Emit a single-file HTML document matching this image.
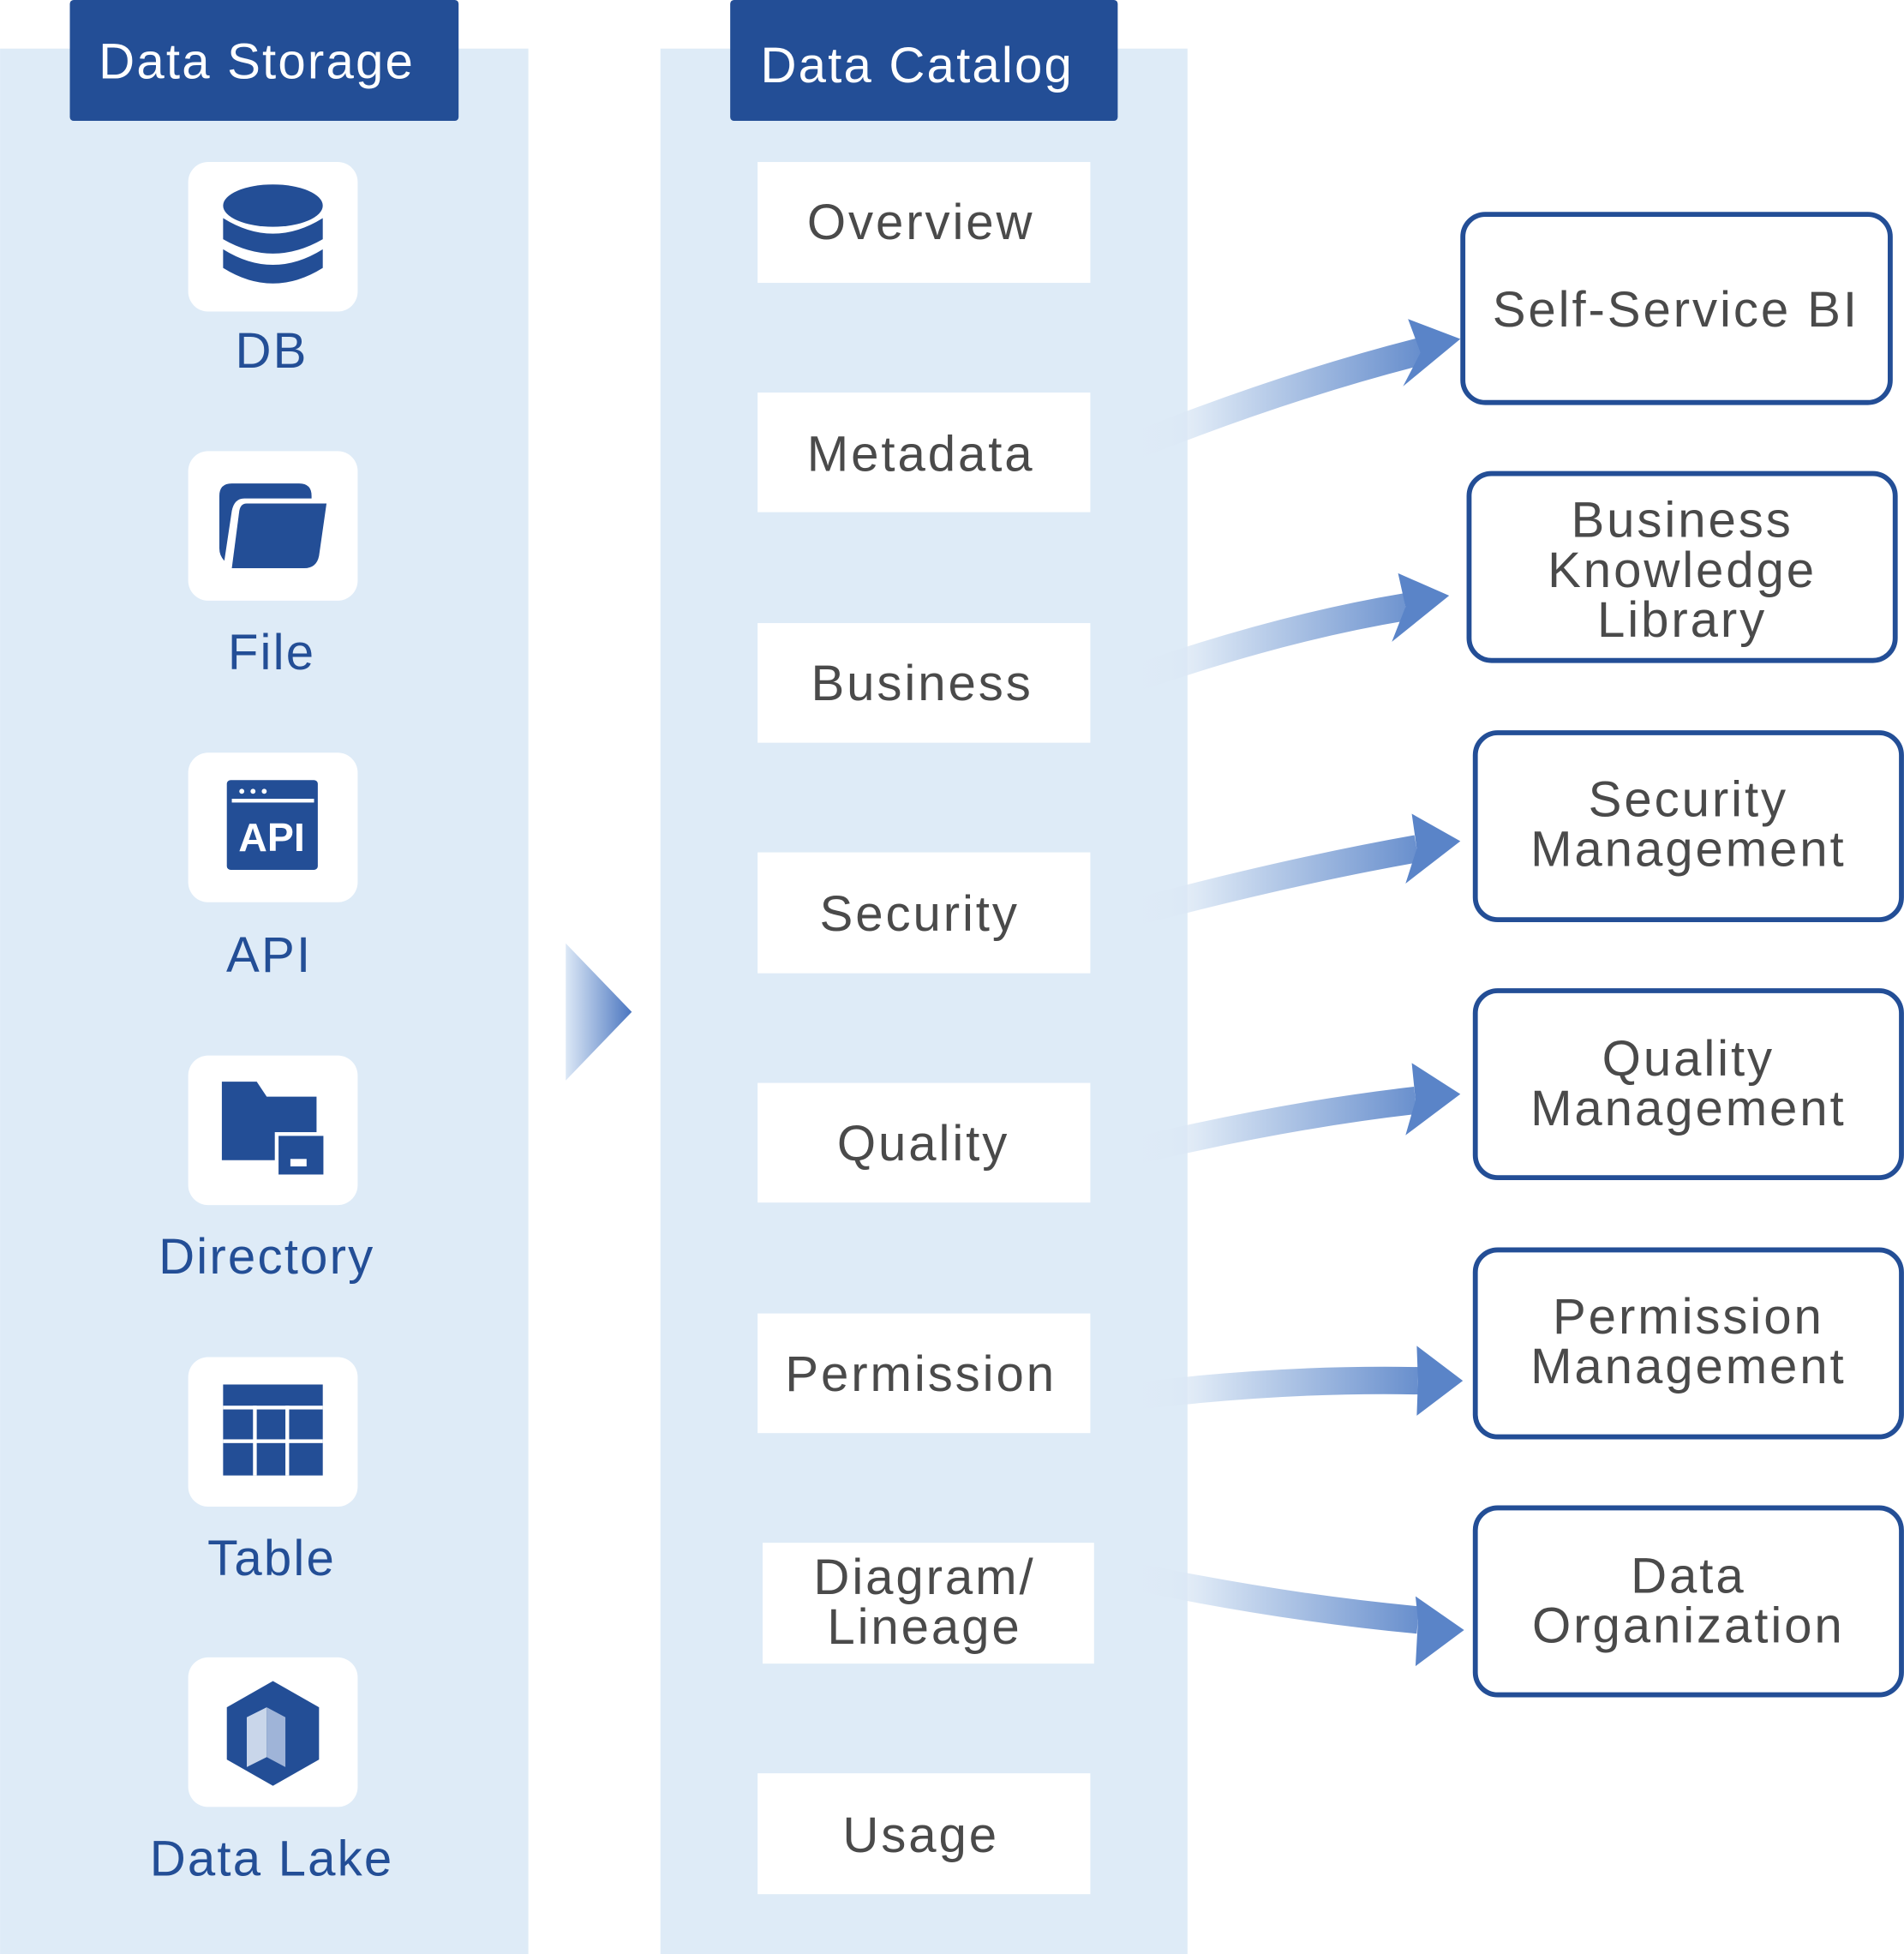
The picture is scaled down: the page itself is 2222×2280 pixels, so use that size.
<!DOCTYPE html>
<html><head><meta charset="utf-8"><style>
html,body{margin:0;padding:0;background:#fff;}
svg{display:block}
text{font-family:"Liberation Sans",sans-serif;}
</style></head><body>
<svg width="2222" height="2280" viewBox="0 0 1528 1568" xmlns="http://www.w3.org/2000/svg">
<defs>
<linearGradient id="ag" gradientUnits="userSpaceOnUse" x1="900" y1="0" x2="1160" y2="0">
<stop offset="0" stop-color="#deebf7" stop-opacity="0"/>
<stop offset="0.25" stop-color="#dbe7f5"/>
<stop offset="1" stop-color="#5a84c8"/>
</linearGradient>
<linearGradient id="tg" x1="0" y1="0" x2="1" y2="0">
<stop offset="0" stop-color="#dce8f6"/>
<stop offset="1" stop-color="#4b76c0"/>
</linearGradient>
</defs>
<rect x="0" y="39" width="424" height="1529" fill="#deebf7"/>
<rect x="530" y="39" width="423" height="1529" fill="#deebf7"/>
<rect x="56" y="0" width="312" height="97" rx="3" fill="#234e96"/>
<rect x="586" y="0" width="311" height="97" rx="3" fill="#234e96"/>
<text x="206" y="63" font-size="40" fill="#fff" text-anchor="middle" letter-spacing="1.5">Data Storage</text>
<text x="736" y="66" font-size="40" fill="#fff" text-anchor="middle" letter-spacing="1.5">Data Catalog</text>

<g fill="#fff">
<rect x="151" y="130" width="136" height="120" rx="16"/>
<rect x="151" y="362" width="136" height="120" rx="16"/>
<rect x="151" y="604" width="136" height="120" rx="16"/>
<rect x="151" y="847" width="136" height="120" rx="16"/>
<rect x="151" y="1089" width="136" height="120" rx="16"/>
<rect x="151" y="1330" width="136" height="120" rx="16"/>
</g>
<g fill="#234e96">
<ellipse cx="219" cy="165" rx="40" ry="17"/>
<path d="M179 175 Q219 200 259 175 V192 Q219 215 179 192Z"/>
<path d="M179 200 Q219 225 259 200 V215 Q219 240 179 215Z"/>
<path d="M186 388 H240 Q250 388 250 398 V400 H196 Q188 400 186 410 L180 450 Q176 446 176 440 V398 Q176 388 186 388Z"/>
<path d="M198 404 H262 L256 446 Q254 456 244 456 H186 L192 410 Q193 404 198 404Z"/>
<rect x="182" y="626" width="73" height="72" rx="3"/>
<path d="M178 868 H206 L214 880 H254 V931 H178Z"/>
<rect x="222" y="910" width="39" height="34" fill="#234e96" stroke="#fff" stroke-width="3"/>
<rect x="233" y="930" width="13" height="6" fill="#fff"/>
<rect x="179" y="1111" width="80" height="73"/>
<path d="M219 1349 L256 1370 V1412 L219 1433 L182 1412 V1370Z"/>
</g>
<g fill="#fff">
<rect x="186" y="641" width="66" height="3"/>
<circle cx="194" cy="635" r="2"/><circle cx="203" cy="635" r="2"/><circle cx="212" cy="635" r="2"/>
<rect x="179" y="1128" width="80" height="3"/><rect x="179" y="1155" width="80" height="3"/>
<rect x="203" y="1128" width="3" height="56"/><rect x="229" y="1128" width="3" height="56"/>
</g>
<text x="218" y="683" font-size="32" fill="#fff" text-anchor="middle" font-weight="bold">API</text>
<path d="M198 1378 L214 1370 V1410 L198 1418Z" fill="#c9d6ea"/>
<path d="M214 1370 L229 1378 V1418 L214 1410Z" fill="#9fb4d8"/>

<g font-size="40" fill="#234e96" text-anchor="middle" letter-spacing="1.5">
<text x="218" y="295">DB</text>
<text x="218" y="537">File</text>
<text x="216" y="780">API</text>
<text x="214" y="1022">Directory</text>
<text x="218" y="1264">Table</text>
<text x="218" y="1505">Data Lake</text>
</g>

<polygon points="454,757 507,812 454,867" fill="url(#tg)"/>

<g fill="#fff">
<rect x="608" y="130" width="267" height="97"/>
<rect x="608" y="315" width="267" height="96"/>
<rect x="608" y="500" width="267" height="96"/>
<rect x="608" y="684" width="267" height="97"/>
<rect x="608" y="869" width="267" height="96"/>
<rect x="608" y="1054" width="267" height="96"/>
<rect x="612" y="1238" width="266" height="97"/>
<rect x="608" y="1423" width="267" height="97"/>
</g>
<g font-size="40" fill="#4a4a4a" text-anchor="middle" letter-spacing="2">
<text x="739" y="192">Overview</text>
<text x="739" y="378">Metadata</text>
<text x="740" y="562">Business</text>
<text x="738" y="747">Security</text>
<text x="741" y="931">Quality</text>
<text x="739" y="1116">Permission</text>
<text x="742" y="1279">Diagram/</text>
<text x="742" y="1319">Lineage</text>
<text x="739" y="1486">Usage</text>
</g>

<g fill="none" stroke="url(#ag)" stroke-width="22">
<path d="M905 360 Q1030 310 1140 282"/>
<path d="M895 550 Q1020 505 1128 487"/>
<path d="M900 735 Q1030 700 1137 681"/>
<path d="M905 925 Q1030 895 1136 883"/>
<path d="M915 1120 Q1030 1106 1138 1108"/>
<path d="M910 1265 Q1030 1290 1138 1300"/>
</g>
<g fill="#5a84c8">
<polygon points="1172,272 1130,256 1140,283 1126,310"/>
<polygon points="1163,478 1122,460 1128,487 1117,515"/>
<polygon points="1172,675 1133,653 1137,681 1128,709"/>
<polygon points="1172,878 1133,853 1136,883 1128,911"/>
<polygon points="1174,1108 1137,1080 1138,1108 1137,1136"/>
<polygon points="1175,1308 1136,1281 1138,1300 1136,1337"/>
</g>

<g fill="#fff" stroke="#234e96" stroke-width="4">
<rect x="1174" y="172" width="343" height="151" rx="18"/>
<rect x="1179" y="380" width="342" height="150" rx="18"/>
<rect x="1184" y="588" width="342" height="150" rx="18"/>
<rect x="1184" y="795" width="342" height="150" rx="18"/>
<rect x="1184" y="1003" width="342" height="150" rx="18"/>
<rect x="1184" y="1210" width="342" height="150" rx="18"/>
</g>
<g font-size="40" fill="#4a4a4a" text-anchor="middle" letter-spacing="2">
<text x="1345" y="262">Self-Service BI</text>
<text x="1350" y="431">Business</text>
<text x="1350" y="471">Knowledge</text>
<text x="1350" y="511">Library</text>
<text x="1355" y="655">Security</text>
<text x="1355" y="695">Management</text>
<text x="1355" y="863">Quality</text>
<text x="1355" y="903">Management</text>
<text x="1355" y="1070">Permission</text>
<text x="1355" y="1110">Management</text>
<text x="1355" y="1278">Data</text>
<text x="1355" y="1318">Organization</text>
</g>
</svg>
</body></html>
